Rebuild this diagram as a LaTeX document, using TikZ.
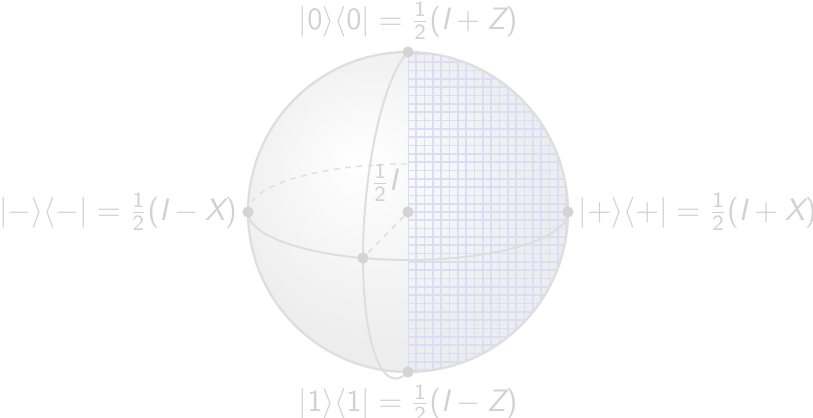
\documentclass[tikz,border=0pt]{standalone}
\usepackage{amsmath}
\usetikzlibrary{positioning}

\definecolor{sphline}{gray}{0.87}
\definecolor{sphdot}{gray}{0.83}
\definecolor{labelgray}{gray}{0.82}
\definecolor{gridlav}{RGB}{220,220,247}

\pgfdeclareradialshading{sphshade}{\pgfpoint{-8bp}{8bp}}{%
  color(0bp)=(white); color(25bp)=(white!93!black); color(50bp)=(white!93!black)}

% sans-serif pieces for the labels
\newcommand{\sv}[1]{\textsf{\itshape #1}}
\newcommand{\sn}[1]{\textsf{#1}}
\newcommand{\shalf}{\tfrac{\sn{1}}{\sn{2}}}

\begin{document}
\begin{tikzpicture}[
  dot/.style={fill=sphdot, circle, inner sep=0pt, minimum size=4pt},
  lbl/.style={text=labelgray, font=\fontsize{11}{13}\selectfont, inner sep=1pt},
]
\useasboundingbox (-5.1,-2.5625) rectangle (5.0625,2.65);

\coordinate (O) at (0,0);

\shade[shading=sphshade] (O) circle (2);
\begin{scope}
  \clip (0,2) arc[start angle=90, end angle=-90, radius=2] -- cycle;
  \draw[gridlav, line width=0.6pt, step=0.104] (0,-2) grid (2.1,2.1);
\end{scope}

% back of the equator
\draw[sphline, line width=0.5pt, dash pattern=on 2pt off 2pt] (-2,0) arc[start angle=180, end angle=90, x radius=2, y radius=0.6];

\draw[sphline, line width=0.8pt] (O) circle (2);
\draw[sphline, line width=0.7pt] (-2,0) arc[start angle=180, end angle=360, x radius=2, y radius=0.6];
\draw[sphline, line width=0.7pt] plot[domain=90:-90, samples=60] ({-0.5625*cos(\x)}, {-0.575*cos(\x)+2*sin(\x)});

\node[dot] (zero) at (0,2) {};
\node[dot] (one) at (0,-2) {};
\node[dot] (minus) at (-2,0) {};
\node[dot] (plus) at (2,0) {};
\node[dot] (mixed) at (O) {};
\node[dot] (fr) at (-0.5625,-0.575) {};

\draw[sphline, line width=0.5pt, dash pattern=on 2pt off 2pt] (mixed) -- (fr);

\node[lbl, above=1pt of zero] (zerolbl) {$|\sn{0}\rangle\langle\sn{0}| = \shalf\sn{(}\sv{I}+\sv{Z}\sn{)}$};
\node[lbl, below=1pt of one] (onelbl) {$|\sn{1}\rangle\langle\sn{1}| = \shalf\sn{(}\sv{I}-\sv{Z}\sn{)}$};
\node[lbl, left=0.5pt of minus] (minuslbl) {$|{-}\rangle\langle{-}| = \shalf\sn{(}\sv{I}-\sv{X}\sn{)}$};
\node[lbl, right=0.5pt of plus] (pluslbl) {$|{+}\rangle\langle{+}| = \shalf\sn{(}\sv{I}+\sv{X}\sn{)}$};
\node[lbl, above left=1pt and 1pt of mixed] (halfI) {$\shalf\sv{I}$};

\end{tikzpicture}
\end{document}
